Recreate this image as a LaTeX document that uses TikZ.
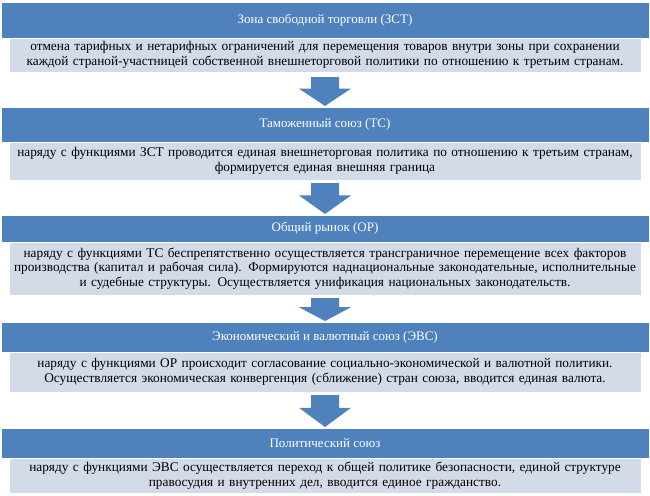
\documentclass[tikz,border=0pt]{standalone}
\usepackage{fontspec}
\setmainfont{Liberation Serif}
\begin{document}
\begin{tikzpicture}[x=1pt,y=-1pt,
  hdr/.style={fill=hblue,draw=white,line width=0.8pt},
  txtbox/.style={fill=bgray,draw=white,line width=0.8pt},
  htext/.style={text=white,font=\fontsize{13}{14}\selectfont},
  btext/.style={text=black,font=\fontsize{13.3}{14.5}\selectfont,align=center,text width=640pt},
  arr/.style={fill=hblue,draw=none}]
\definecolor{hblue}{HTML}{4F81BD}
\definecolor{bgray}{HTML}{D3DAE8}
\useasboundingbox (0,0) rectangle (650,495);
\fill[white] (0,0) rectangle (650,495);
\newcommand{\blk}[6]{%
  \draw[hdr] (1,#2) rectangle (649,#3);
  \draw[txtbox] (9,#3) rectangle (641,#4);
  \node[htext] (h#1) at (325,{(#2+#3)/2}) {#5};
  \node[btext] (b#1) at (325,{(#3+#4)/2}) {#6};
}
\newcommand{\darr}[3]{%
  \fill[arr] (311,#2) -- (339,#2) -- (339,{#2+0.4*(#3-#2)}) -- (351,{#2+0.4*(#3-#2)}) -- (325,#3) -- (299,{#2+0.4*(#3-#2)}) -- (311,{#2+0.4*(#3-#2)}) -- cycle;
  \coordinate (a#1) at (325,#2);
}
\blk{1}{2}{38}{72}{Зона свободной торговли (ЗСТ)}{отмена тарифных и нетарифных ограничений для перемещения товаров внутри зоны при сохранении\\ каждой страной-участницей собственной внешнеторговой политики по отношению к третьим странам.}
\darr{1}{77}{106}
\blk{2}{107}{142}{180}{Таможенный союз (ТС)}{наряду с функциями ЗСТ проводится единая внешнеторговая политика по отношению к третьим странам,\\ формируется единая внешняя граница}
\darr{2}{183}{214}
\blk{3}{215}{242}{295}{Общий рынок (ОР)}{наряду с функциями ТС беспрепятственно осуществляется трансграничное перемещение всех факторов\\ производства (капитал и рабочая сила). Формируются наднациональные законодательные, исполнительные\\ и судебные структуры. Осуществляется унификация национальных законодательств.}
\darr{3}{298}{321}
\blk{4}{322}{352}{392}{Экономический и валютный союз (ЭВС)}{наряду с функциями ОР происходит согласование социально-экономической и валютной политики.\\ Осуществляется экономическая конвергенция (сближение) стран союза, вводится единая валюта.}
\darr{4}{395}{427}
\blk{5}{428}{458}{493}{Политический союз}{наряду с функциями ЭВС осуществляется переход к общей политике безопасности, единой структуре\\ правосудия и внутренних дел, вводится единое гражданство.}
\end{tikzpicture}
\end{document}
